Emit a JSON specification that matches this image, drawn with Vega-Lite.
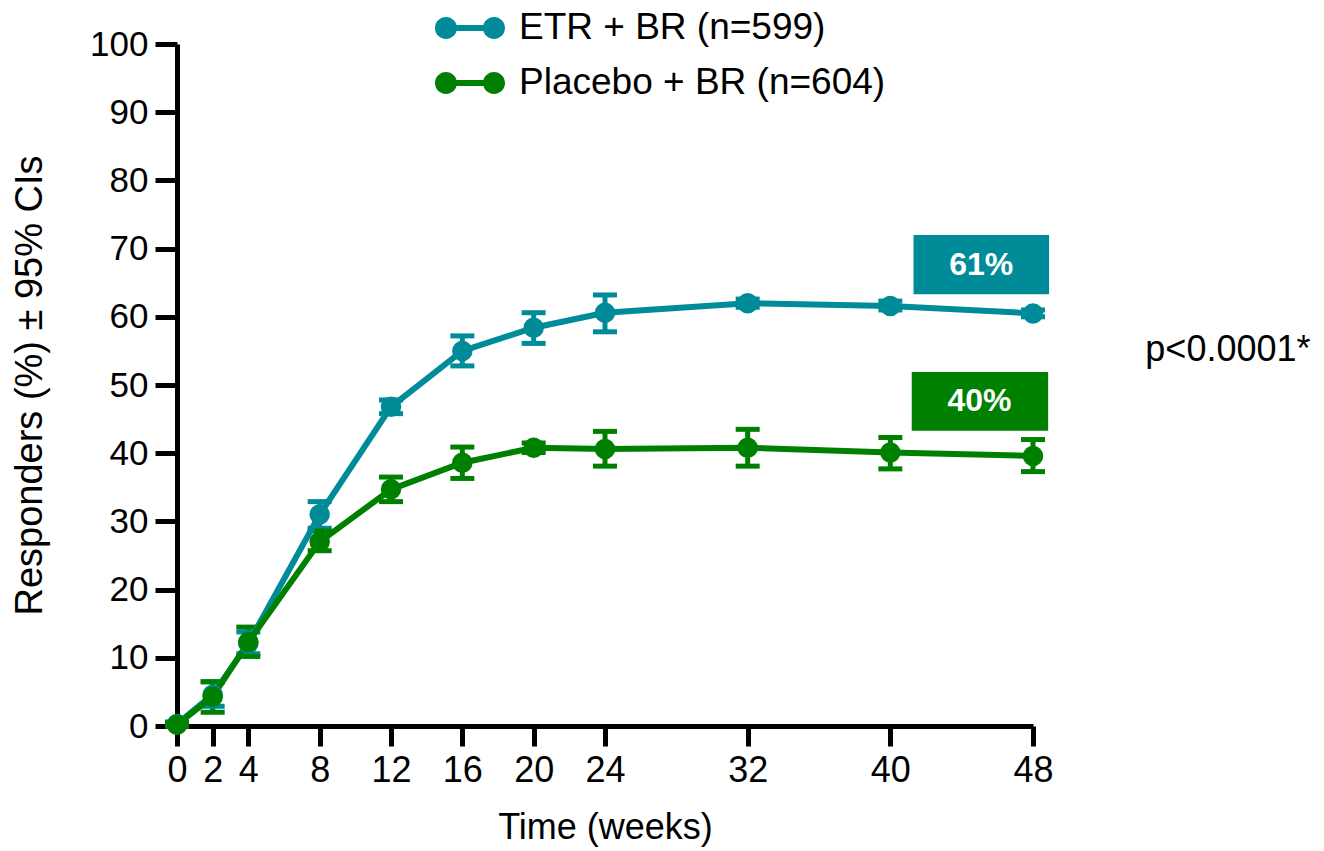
{
  "$schema": "https://vega.github.io/schema/vega-lite/v6.json",
  "width": 856,
  "height": 682,
  "autosize": {"type": "none"},
  "padding": {"left": 177, "top": 44, "right": 291, "bottom": 125},
  "background": "white",
  "config": {
    "view": {"stroke": null},
    "font": "Liberation Sans",
    "axis": {"grid": false, "domainColor": "black", "domainWidth": 5, "tickColor": "black", "tickWidth": 5, "labelColor": "black", "titleColor": "black", "titleFontWeight": "normal"}
  },
  "datasets": {
    "resp": [
      {"series": "ETR + BR (n=599)", "week": 0, "pct": 0.3, "lo": 0, "hi": 0.6},
      {"series": "ETR + BR (n=599)", "week": 2, "pct": 4.6, "lo": 2.9, "hi": 6.5},
      {"series": "ETR + BR (n=599)", "week": 4, "pct": 12.1, "lo": 10.6, "hi": 13.8},
      {"series": "ETR + BR (n=599)", "week": 8, "pct": 31, "lo": 29, "hi": 32.9},
      {"series": "ETR + BR (n=599)", "week": 12, "pct": 46.8, "lo": 45.8, "hi": 47.8},
      {"series": "ETR + BR (n=599)", "week": 16, "pct": 55, "lo": 52.8, "hi": 57.2},
      {"series": "ETR + BR (n=599)", "week": 20, "pct": 58.4, "lo": 56.1, "hi": 60.6},
      {"series": "ETR + BR (n=599)", "week": 24, "pct": 60.6, "lo": 57.8, "hi": 63.2},
      {"series": "ETR + BR (n=599)", "week": 32, "pct": 62, "lo": 61.4, "hi": 62.6},
      {"series": "ETR + BR (n=599)", "week": 40, "pct": 61.6, "lo": 61, "hi": 62.3},
      {"series": "ETR + BR (n=599)", "week": 48, "pct": 60.5, "lo": 60, "hi": 61},
      {"series": "Placebo + BR (n=604)", "week": 0, "pct": 0.2, "lo": 0, "hi": 0.5},
      {"series": "Placebo + BR (n=604)", "week": 2, "pct": 4.3, "lo": 2, "hi": 6.5},
      {"series": "Placebo + BR (n=604)", "week": 4, "pct": 12.3, "lo": 10.2, "hi": 14.5},
      {"series": "Placebo + BR (n=604)", "week": 8, "pct": 27, "lo": 25.7, "hi": 28.6},
      {"series": "Placebo + BR (n=604)", "week": 12, "pct": 34.7, "lo": 32.9, "hi": 36.5},
      {"series": "Placebo + BR (n=604)", "week": 16, "pct": 38.6, "lo": 36.3, "hi": 40.9},
      {"series": "Placebo + BR (n=604)", "week": 20, "pct": 40.8, "lo": 40.1, "hi": 41.5},
      {"series": "Placebo + BR (n=604)", "week": 24, "pct": 40.6, "lo": 38.1, "hi": 43.2},
      {"series": "Placebo + BR (n=604)", "week": 32, "pct": 40.8, "lo": 38.1, "hi": 43.5},
      {"series": "Placebo + BR (n=604)", "week": 40, "pct": 40.1, "lo": 37.7, "hi": 42.3},
      {"series": "Placebo + BR (n=604)", "week": 48, "pct": 39.6, "lo": 37.3, "hi": 42}
    ],
    "boxes": [
      {"series": "ETR + BR (n=599)", "label": "61%", "x1": 41.3, "x2": 48.9, "y1": 63.3, "y2": 72, "xm": 45.1, "ym": 67.65},
      {"series": "Placebo + BR (n=604)", "label": "40%", "x1": 41.2, "x2": 48.85, "y1": 43.3, "y2": 51.9, "xm": 45.0, "ym": 47.6}
    ],
    "note": [
      {"label": "p<0.0001*", "x": 54.3, "y": 55.1}
    ]
  },
  "layer": [
    {
      "data": {"name": "resp"},
      "mark": {"type": "rule", "strokeWidth": 5, "opacity": 1},
      "encoding": {
        "x": {"field": "week", "type": "quantitative"},
        "y": {"field": "lo", "type": "quantitative"},
        "y2": {"field": "hi"},
        "color": {"field": "series", "type": "nominal"}
      }
    },
    {
      "data": {"name": "resp"},
      "mark": {"type": "tick", "orient": "horizontal", "size": 24, "thickness": 5, "opacity": 1},
      "encoding": {
        "x": {"field": "week", "type": "quantitative"},
        "y": {"field": "lo", "type": "quantitative"},
        "color": {"field": "series", "type": "nominal"}
      }
    },
    {
      "data": {"name": "resp"},
      "mark": {"type": "tick", "orient": "horizontal", "size": 24, "thickness": 5, "opacity": 1},
      "encoding": {
        "x": {"field": "week", "type": "quantitative"},
        "y": {"field": "hi", "type": "quantitative"},
        "color": {"field": "series", "type": "nominal"}
      }
    },
    {
      "data": {"name": "resp"},
      "mark": {"type": "line", "strokeWidth": 6},
      "encoding": {
        "x": {"field": "week", "type": "quantitative"},
        "y": {"field": "pct", "type": "quantitative"},
        "color": {"field": "series", "type": "nominal"}
      }
    },
    {
      "data": {"name": "resp"},
      "mark": {"type": "point", "filled": true, "opacity": 1, "size": 420, "shape": "circle"},
      "encoding": {
        "x": {
          "field": "week", "type": "quantitative",
          "scale": {"domain": [0, 48], "nice": false, "zero": false},
          "axis": {"values": [0, 2, 4, 8, 12, 16, 20, 24, 32, 40, 48], "tickSize": 20, "labelFontSize": 36, "labelPadding": 7, "title": "Time (weeks)", "titleFontSize": 36, "titlePadding": 22, "labelFlush": false}
        },
        "y": {
          "field": "pct", "type": "quantitative",
          "scale": {"domain": [0, 100], "nice": false},
          "axis": {"values": [0, 10, 20, 30, 40, 50, 60, 70, 80, 90, 100], "tickSize": 22, "labelFontSize": 35, "labelPadding": 7, "title": "Responders (%) ± 95% CIs", "titleFontSize": 38, "titlePadding": 40, "labelFlush": false}
        },
        "color": {
          "field": "series", "type": "nominal",
          "scale": {"domain": ["ETR + BR (n=599)", "Placebo + BR (n=604)"], "range": ["#008B99", "#008000"]},
          "legend": {
            "orient": "none", "legendX": 258, "legendY": -51, "title": null,
            "symbolType": "M-1,0 A0.314,0.314 0 1,1 -0.372,0 A0.314,0.314 0 1,1 -1,0 Z M0.372,0 A0.314,0.314 0 1,1 1,0 A0.314,0.314 0 1,1 0.372,0 Z M-0.4,-0.086 L0.4,-0.086 L0.4,0.086 L-0.4,0.086 Z",
            "symbolSize": 4900, "symbolStrokeWidth": 0, "symbolOpacity": 1,
            "labelFontSize": 37, "labelColor": "black", "labelOffset": 14, "labelLimit": 0, "rowPadding": 2
          }
        }
      }
    },
    {
      "data": {"name": "boxes"},
      "mark": {"type": "rect", "clip": false},
      "encoding": {
        "x": {"field": "x1", "type": "quantitative"},
        "x2": {"field": "x2"},
        "y": {"field": "y1", "type": "quantitative"},
        "y2": {"field": "y2"},
        "color": {"field": "series", "type": "nominal"}
      }
    },
    {
      "data": {"name": "boxes"},
      "mark": {"type": "text", "color": "white", "fontWeight": "bold", "fontSize": 32, "align": "center", "baseline": "middle", "clip": false},
      "encoding": {
        "x": {"field": "xm", "type": "quantitative"},
        "y": {"field": "ym", "type": "quantitative"},
        "text": {"field": "label"}
      }
    },
    {
      "data": {"name": "note"},
      "mark": {"type": "text", "color": "black", "fontSize": 36, "align": "left", "baseline": "middle", "clip": false},
      "encoding": {
        "x": {"field": "x", "type": "quantitative"},
        "y": {"field": "y", "type": "quantitative"},
        "text": {"field": "label"}
      }
    }
  ]
}
